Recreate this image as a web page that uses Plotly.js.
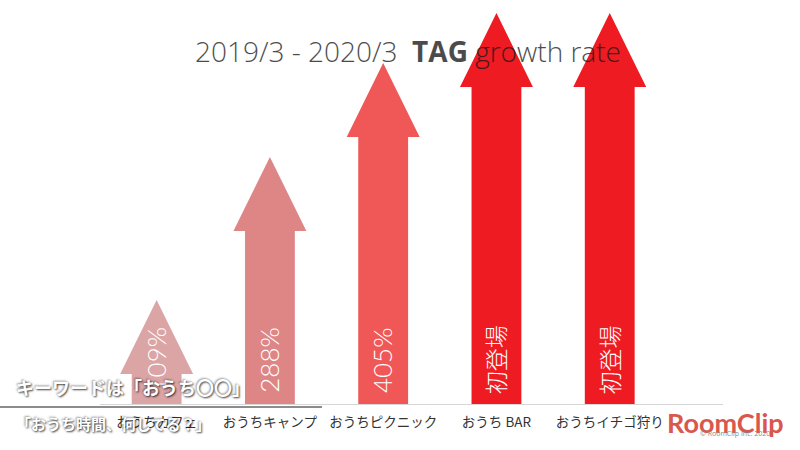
<!DOCTYPE html>
<html>
<head>
<meta charset="utf-8">
<script src="https://cdn.plot.ly/plotly-3.0.1.min.js"></script>
<style>
html,body{margin:0;padding:0;background:#fff;}
#chart{width:800px;height:450px;}
</style>
</head>
<body>
<div id="chart"></div>
<script>
// ---- data ----
var categories = ["おうちカフェ", "おうちキャンプ", "おうちピクニック", "おうち BAR", "おうちイチゴ狩り"];
var arrowHeights = [104, 247, 341, 391, 391];
var arrowLabels = ["109%", "288%", "405%", "初登場", "初登場"];
var arrowColors = ["#dba4a5", "#de8586", "#f05757", "#ee1c22", "#ee1c22"];

// ---- layout frame ----
var M = {l: 100, r: 77, t: 4, b: 46};
var PW = 800 - M.l - M.r, PH = 450 - M.t - M.b;
function px(x) { return (x - M.l) / PW; }
function py(y) { return (450 - M.b - y) / PH; }

// ---- arrow geometry (in axis units) ----
var shaftHalf = 0.22, headHalf = 0.322, headLen = 74;

var traces = [];
categories.forEach(function (c, i) {
  var h = arrowHeights[i];
  var hb = h - headLen;
  var xs = [i - shaftHalf, i - shaftHalf, i - headHalf, i, i + headHalf, i + shaftHalf, i + shaftHalf, i - shaftHalf];
  var ys = [0, hb, hb, h, hb, hb, 0, 0];
  traces.push({
    type: "scatter", mode: "lines", x: xs, y: ys,
    fill: "toself", fillcolor: arrowColors[i],
    line: {width: 0, color: arrowColors[i]},
    hoverinfo: "skip"
  });
});

var annotations = arrowLabels.map(function (t, i) {
  var cjk = /[^\x00-\x7f]/.test(t);
  return {
    x: i - 0.01, y: 44, xref: "x", yref: "y", text: t, showarrow: false,
    textangle: -90,
    font: {family: cjk ? "Noto Sans CJK JP" : "Lato", size: cjk ? 23 : 26, color: "#ffffff", weight: 300}
  };
});

var overlayAnn = [
  {text: "キーワードは「おうち〇〇」", x: 14, y: 387, size: 18},
  {text: "「おうち時間、何してる？」", x: 14, y: 423, size: 15}
];
overlayAnn.forEach(function (o) {
  annotations.push({
    xref: "paper", yref: "paper", x: px(o.x), y: py(o.y),
    xanchor: "left", yanchor: "middle", showarrow: false,
    text: o.text,
    font: {family: "Noto Sans CJK JP", size: o.size, color: "#ffffff", weight: 700,
           shadow: "1px 1px 2px rgba(0,0,0,0.75), -1px -1px 2px rgba(0,0,0,0.35)"}
  });
});

annotations.push({
  xref: "paper", yref: "paper", x: px(725), y: py(422),
  xanchor: "center", yanchor: "middle", showarrow: false,
  text: "<b>RoomClip</b>",
  font: {family: "Lato", size: 27, color: "#d9574c", weight: 900}
});
annotations.push({
  xref: "paper", yref: "paper", x: px(735), y: py(433),
  xanchor: "center", yanchor: "middle", showarrow: false,
  text: "© RoomClip Inc. 2020",
  font: {family: "Open Sans", size: 7, color: "#888888"}
});

var layout = {
  width: 800, height: 450,
  margin: M,
  paper_bgcolor: "#ffffff", plot_bgcolor: "#ffffff",
  showlegend: false, hovermode: false,
  title: {
    text: "2019/3 - 2020/3  <b>TAG</b> growth rate",
    x: 408 / 800, xref: "container", xanchor: "center",
    y: 1 - 52 / 450, yref: "container", yanchor: "middle",
    font: {family: "Open Sans", size: 28, color: "rgba(25,25,25,0.78)", weight: 300}
  },
  xaxis: {
    range: [-0.5, 5.0], tickvals: [0, 1, 2, 3, 4], ticktext: categories,
    showgrid: false, zeroline: false, showline: true, linecolor: "#d6d6d6", linewidth: 1,
    ticks: "", ticklen: 0, ticklabelstandoff: 6,
    tickfont: {family: "Noto Sans CJK JP", size: 13.5, color: "#333333"},
    fixedrange: true
  },
  yaxis: {
    range: [0, 400], visible: false, showgrid: false, zeroline: false, fixedrange: true
  },
  annotations: annotations,
  shapes: [
    {type: "line", layer: "above", xref: "paper", yref: "paper",
     x0: px(0), x1: px(322), y0: py(407), y1: py(407),
     line: {color: "rgba(120,120,120,0.85)", width: 2}}
  ]
};

Plotly.newPlot("chart", traces, layout, {staticPlot: true, displayModeBar: false});
</script>
</body>
</html>
